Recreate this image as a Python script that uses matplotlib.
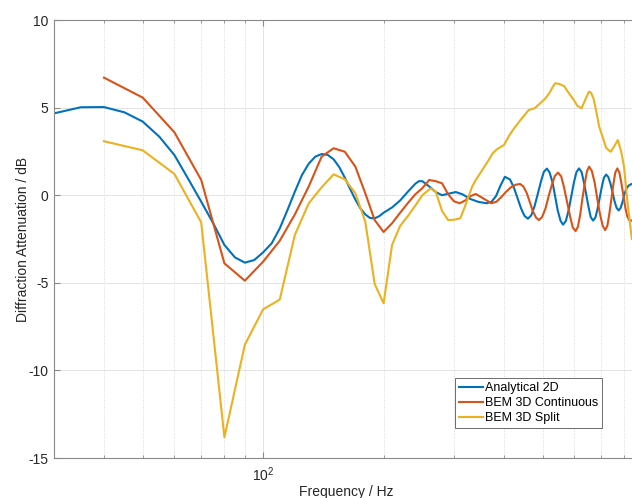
import numpy as np
import matplotlib
matplotlib.use('Agg')
import matplotlib.pyplot as plt
from matplotlib.ticker import NullFormatter, LogLocator

plt.rcParams['font.family'] = ['Liberation Sans', 'DejaVu Sans']
plt.rcParams['axes.unicode_minus'] = False

# Analytical 2D
f_ana = [30, 35, 40, 45, 50, 55, 60, 65, 70, 75, 80, 85, 90, 95, 100,
         105, 110, 115, 120, 125, 130, 135, 140, 145, 150, 155, 160, 165, 170,
         175, 180, 185, 190, 195, 200, 210, 220, 230, 240, 245, 250, 260, 270,
         280, 290, 303, 315, 330, 345, 362, 372, 382, 392, 402,
         414, 423, 432, 441, 450, 459, 468, 477, 486, 495, 503, 512,
         520, 529, 537, 545, 554, 562, 571, 580, 589, 598, 607, 616,
         625, 633, 642, 651, 659, 668, 677, 685, 694, 703, 711, 720,
         729, 738, 747, 756, 765, 774, 783, 792, 801, 810, 820, 830, 845]
db_ana = [4.67, 5.02, 5.03, 4.73, 4.2, 3.34, 2.29, 0.92, -0.37, -1.6, -2.84, -3.55, -3.85, -3.7, -3.26,
          -2.75, -1.9, -0.85, 0.2, 1.15, 1.8, 2.2, 2.35, 2.3, 2.05, 1.6, 1.0, 0.35, -0.25,
          -0.75, -1.1, -1.3, -1.32, -1.2, -1.0, -0.7, -0.3, 0.2, 0.65, 0.8, 0.8, 0.5, 0.18,
          0.0, 0.08, 0.18, 0.05, -0.22, -0.38, -0.46, -0.38, -0.05, 0.55, 1.05,
          0.9, 0.46, -0.14, -0.74, -1.18, -1.34, -1.15, -0.62, 0.09, 0.8, 1.33, 1.52,
          1.3, 0.72, -0.08, -0.88, -1.47, -1.68, -1.47, -0.88, -0.08, 0.72, 1.32, 1.53,
          1.33, 0.78, 0.04, -0.7, -1.25, -1.45, -1.27, -0.8, -0.14, 0.52, 1.0, 1.18,
          1.04, 0.67, 0.16, -0.36, -0.73, -0.87, -0.72, -0.35, 0.1, 0.4, 0.55, 0.62, 0.68]

# BEM 3D Continuous
f_cont = [40, 50, 60, 70, 80, 90, 100, 110, 120, 130, 140, 150, 160, 170, 180,
          190, 200, 210, 220, 230, 240, 250, 260, 270, 280, 290, 300, 310, 320,
          330, 340, 356, 372, 383, 394, 405, 416, 428, 439,
          447, 456, 464, 472, 481, 489, 498, 508, 517, 527, 536, 546,
          556, 565, 575, 585, 594, 604, 612, 620, 628, 637, 645, 653,
          663, 674, 684, 695, 706, 716, 725, 733, 742, 751, 759, 768,
          777, 786, 795, 804, 813, 822, 835]
db_cont = [6.71, 5.57, 3.59, 0.87, -3.89, -4.88, -3.79, -2.6, -1.1, 0.5, 2.2, 2.68, 2.48, 1.63, 0.11,
           -1.42, -2.1, -1.6, -1.0, -0.45, 0.05, 0.4, 0.87, 0.8, 0.68, 0.05, -0.35, -0.46, -0.3,
           -0.05, 0.07, -0.2, -0.46, -0.37, -0.1, 0.2, 0.45, 0.6, 0.64,
           0.5, 0.12, -0.39, -0.9, -1.28, -1.42, -1.25, -0.75, -0.07, 0.6, 1.1, 1.29,
           1.07, 0.45, -0.38, -1.2, -1.83, -2.05, -1.8, -1.13, -0.21, 0.7, 1.38, 1.63,
           1.39, 0.72, -0.18, -1.08, -1.75, -1.99, -1.75, -1.11, -0.23, 0.65, 1.29, 1.53,
           1.3, 0.7, 0.0, -0.7, -1.2, -1.42, -1.45]

# BEM 3D Split
f_split = [40, 50, 60, 70, 80, 90, 100, 110, 120, 130, 140, 150, 160, 170, 180,
           190, 200, 210, 220, 230, 240, 250, 262, 270, 280, 290, 300, 311, 320,
           333, 340, 353, 366, 375, 384, 400, 412, 424, 440, 461, 477, 490, 508,
           520, 530, 537, 550, 565, 580, 598, 610, 625, 640, 652, 660, 670, 680,
           692, 703, 720, 739, 755, 770, 785, 798, 815, 835]
db_split = [3.08, 2.56, 1.21, -1.55, -13.82, -8.53, -6.51, -5.96, -2.27, -0.46, 0.45, 1.19, 0.91, 0.11, -1.51,
            -5.07, -6.17, -2.84, -1.75, -1.19, -0.6, 0.0, 0.39, 0.2, -0.9, -1.42, -1.4, -1.32, -0.6,
            0.49, 0.87, 1.44, 2.0, 2.4, 2.62, 2.87, 3.4, 3.82, 4.3, 4.86, 4.96, 5.2, 5.53,
            5.85, 6.2, 6.39, 6.35, 6.23, 5.85, 5.43, 5.1, 4.96, 5.5, 5.91, 5.85, 5.5, 4.8,
            3.9, 3.44, 2.7, 2.48, 2.8, 3.15, 2.5, 1.63, -0.5, -2.5]

names = ['Analytical 2D', 'BEM 3D Continuous', 'BEM 3D Split']
colors = ['#0072BD', '#D95319', '#EDB120']

fig = plt.figure(figsize=(6.32, 4.98), dpi=100)
ax = fig.add_axes([54 / 632, 40 / 498, 584 / 632, 438 / 498])

ax.semilogx(f_ana, db_ana, color=colors[0], lw=1.5, label=names[0])
ax.semilogx(f_cont, db_cont, color=colors[1], lw=1.5, label=names[1])
ax.semilogx(f_split, db_split, color=colors[2], lw=1.5, label=names[2])

ax.set_xlim(30, 865)
ax.set_ylim(-15, 10)
ax.set_yticks([-15, -10, -5, 0, 5, 10])
ax.xaxis.set_major_locator(LogLocator(base=10))
ax.xaxis.set_minor_locator(LogLocator(base=10, subs=np.arange(2, 10)))
ax.xaxis.set_minor_formatter(NullFormatter())

ax.grid(True, which='major', color='#dedede', lw=0.6, ls='-')
ax.grid(True, which='minor', axis='x', color='#d0d0d0', lw=0.6, ls=':')
ax.set_axisbelow(True)

for s in ax.spines.values():
    s.set_color('#8a8a8a')
    s.set_linewidth(0.8)
ax.tick_params(which='both', direction='in', top=True, right=True,
               colors='#8a8a8a', labelcolor='#262626', labelsize=10)
ax.tick_params(which='major', length=4)
ax.tick_params(which='minor', length=2.5)
ax.tick_params(axis='y', pad=4)
ax.tick_params(axis='x', pad=5)

ax.set_xlabel('Frequency / Hz', fontsize=10, color='#262626', labelpad=1)
ax.set_ylabel('Diffraction Attenuation / dB', fontsize=10, color='#262626', labelpad=-1)

leg = ax.legend(loc='lower right', bbox_to_anchor=(0.938, 0.068), borderaxespad=0,
                fontsize=9, fancybox=False, framealpha=1, edgecolor='#555555',
                borderpad=0.3, handletextpad=0.15, labelspacing=0.25, handlelength=1.9)
leg.get_frame().set_linewidth(0.6)

fig.savefig('out.png', dpi=100)
